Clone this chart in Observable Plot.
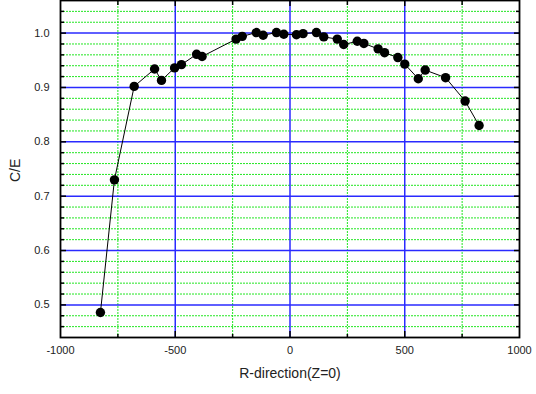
<!DOCTYPE html>
<html>
<head>
<meta charset="utf-8">
<script src="https://cdn.jsdelivr.net/npm/d3@7"></script>
<script src="https://cdn.jsdelivr.net/npm/@observablehq/plot@0.6"></script>
<style>
  html, body { margin: 0; padding: 0; background: #fff; }
  #chart { width: 536px; height: 394px; }
</style>
</head>
<body>
<div id="chart"></div>
<script>
// Series values
const rPos = [-826, -765, -679, -590, -560, -503, -473, -407, -383, -235, -208, -147, -117, -59, -27, 28, 57, 115, 147, 206, 234, 293, 322, 384, 412, 470, 500, 559, 589, 678, 763, 824];
const ceVal = [0.486, 0.730, 0.902, 0.934, 0.913, 0.936, 0.942, 0.961, 0.957, 0.989, 0.994, 1.001, 0.996, 1.001, 0.998, 0.997, 0.999, 1.001, 0.993, 0.989, 0.979, 0.985, 0.981, 0.971, 0.964, 0.955, 0.943, 0.916, 0.932, 0.918, 0.875, 0.830];

// Ticks
const xLabels = [-1000, -500, 0, 500, 1000];
const xMajor = [-500, 0, 500];
const xMinor = [-750, -250, 250, 750];
const yMajor = [0.5, 0.6, 0.7, 0.8, 0.9, 1.0];
const yMinor = [0.46, 0.48, 0.52, 0.54, 0.56, 0.58, 0.62, 0.64, 0.66, 0.68, 0.72, 0.74, 0.76, 0.78, 0.82, 0.84, 0.86, 0.88, 0.92, 0.94, 0.96, 0.98, 1.02, 1.04];

const xTitle = "R-direction(Z=0)";
const yTitle = "C/E";

const data = rPos.map((r, i) => ({r, ce: ceVal[i]}));

const green = "#22e622";
const blue = "#2a2aff";

const chart = Plot.plot({
  width: 536,
  height: 394,
  marginLeft: 60,
  marginRight: 17,
  marginTop: 0,
  marginBottom: 57,
  style: {fontFamily: "'Liberation Sans', Arial, sans-serif", fontSize: "11px", color: "#222", background: "#fff"},
  x: {domain: [-1000, 1000]},
  y: {domain: [0.44, 1.06]},
  marks: [
    Plot.gridY(yMinor, {stroke: green, strokeOpacity: 1, strokeWidth: 1, strokeDasharray: "2,1"}),
    Plot.gridX(xMinor, {stroke: green, strokeOpacity: 1, strokeWidth: 1, strokeDasharray: "2,1"}),
    Plot.gridY(yMajor, {stroke: blue, strokeOpacity: 1, strokeWidth: 1.5}),
    Plot.gridX(xMajor, {stroke: blue, strokeOpacity: 1, strokeWidth: 1.5}),
    // inward ticks
    Plot.axisY(yMinor, {anchor: "left", tickSize: 4, dx: 4, fill: "none", stroke: "#000", strokeWidth: 1.5}),
    Plot.axisY(yMajor, {anchor: "left", tickSize: 6, dx: 6, fill: "none", stroke: "#000", strokeWidth: 1.5}),
    Plot.axisY(yMinor, {anchor: "right", tickSize: 4, dx: -4, fill: "none", stroke: "#000", strokeWidth: 1.5}),
    Plot.axisY(yMajor, {anchor: "right", tickSize: 6, dx: -6, fill: "none", stroke: "#000", strokeWidth: 1.5}),
    Plot.axisX(xMinor, {anchor: "bottom", tickSize: 3, dy: -3, fill: "none", stroke: "#000", strokeWidth: 1.5}),
    Plot.axisX(xMajor, {anchor: "bottom", tickSize: 6, dy: -6, fill: "none", stroke: "#000", strokeWidth: 1.5}),
    Plot.axisX(xMinor, {anchor: "top", tickSize: 4, dy: 4, fill: "none", stroke: "#000", strokeWidth: 1.5}),
    Plot.axisX(xMajor, {anchor: "top", tickSize: 5, dy: 5, fill: "none", stroke: "#000", strokeWidth: 1.5}),
    // labels
    Plot.axisY(yMajor, {anchor: "left", tickSize: 0, tickPadding: 11, tickFormat: d3.format(".1f"), label: null}),
    Plot.axisX(xLabels, {anchor: "bottom", tickSize: 0, tickPadding: 9, tickFormat: d => String(d), label: null}),
    Plot.frame({stroke: "#000", strokeWidth: 1.8}),
    Plot.line(data, {x: "r", y: "ce", stroke: "#000", strokeWidth: 1}),
    Plot.dot(data, {x: "r", y: "ce", r: 4.7, fill: "#000", stroke: "none"}),
    Plot.text([xTitle], {frameAnchor: "bottom", dy: 40, text: d => d, fontSize: 14, fill: "#222"}),
    Plot.text([yTitle], {frameAnchor: "left", dx: -45, dy: 13, rotate: -90, text: d => d, fontSize: 14, fill: "#222"})
  ]
});
document.getElementById("chart").appendChild(chart);
</script>
</body>
</html>
